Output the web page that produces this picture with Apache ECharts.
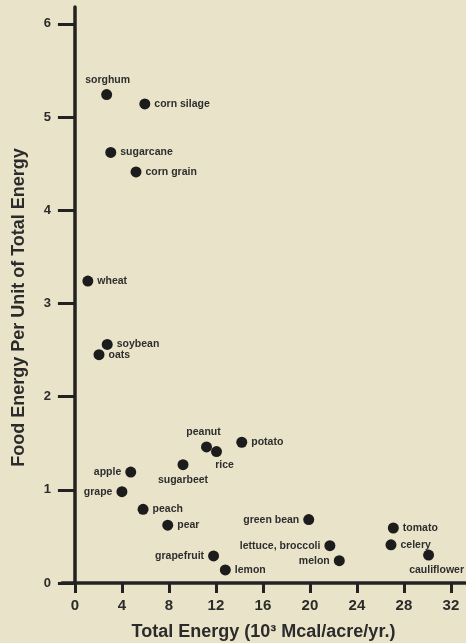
<!DOCTYPE html>
<html>
<head>
<meta charset="utf-8">
<title>Food Energy vs Total Energy</title>
<script src="https://cdn.jsdelivr.net/npm/echarts@6/dist/echarts.min.js"></script>
<style>
  html, body { margin: 0; padding: 0; background: #e9e4c9; }
  #chart { width: 466px; height: 643px; }
</style>
</head>
<body>
<div id="chart"></div>
<script>
// Crops: total energy (10^3 Mcal/acre/yr) vs food energy per unit of total energy
const crops = ['sorghum', 'corn silage', 'sugarcane', 'corn grain', 'wheat', 'soybean', 'oats',
  'apple', 'grape', 'peach', 'pear', 'sugarbeet', 'peanut', 'rice', 'potato', 'grapefruit', 'lemon',
  'green bean', 'lettuce, broccoli', 'melon', 'tomato', 'celery', 'cauliflower'];
const totalEnergy = [2.7, 5.95, 3.05, 5.2, 1.1, 2.75, 2.05,
  4.75, 4.0, 5.8, 7.9, 9.2, 11.2, 12.05, 14.2, 11.8, 12.8,
  19.9, 21.7, 22.5, 27.1, 26.9, 30.1];
const foodRatio = [5.24, 5.14, 4.62, 4.41, 3.24, 2.56, 2.45,
  1.19, 0.98, 0.79, 0.62, 1.27, 1.46, 1.41, 1.51, 0.29, 0.14,
  0.68, 0.40, 0.24, 0.59, 0.41, 0.30];
const xTicks = [0, 4, 8, 12, 16, 20, 24, 28, 32];
const yTicks = [0, 1, 2, 3, 4, 5, 6];

// where each crop's name sits relative to its dot
const labelPlacement = {
  'sorghum': { position: 'top', offset: [1, 0] },
  'apple': { position: 'left' },
  'grape': { position: 'left' },
  'sugarbeet': { position: 'bottom' },
  'peanut': { position: 'top', offset: [-3, 0] },
  'rice': { position: 'bottom', offset: [8, -1] },
  'grapefruit': { position: 'left' },
  'green bean': { position: 'left' },
  'lettuce, broccoli': { position: 'left' },
  'melon': { position: 'left' },
  'cauliflower': { position: 'bottom', offset: [8, 0] }
};

const ink = '#222';
const textInk = '#2b2b2b';
const font = 'Liberation Sans';

const points = crops.map((name, i) => {
  const p = labelPlacement[name] || { position: 'right' };
  return {
    name: name,
    value: [totalEnergy[i], foodRatio[i]],
    label: { position: p.position, offset: p.offset || [0, 0] }
  };
});

const chart = echarts.init(document.getElementById('chart'));
chart.setOption({
  backgroundColor: '#e9e4c9',
  animation: false,
  grid: { left: 62, right: 1, top: 7, bottom: 60, containLabel: false, outerBoundsMode: 'none' },
  xAxis: {
    type: 'value',
    min: -1.1,
    max: 33.2,
    name: 'Total Energy (10³ Mcal/acre/yr.)',
    nameLocation: 'middle',
    nameGap: 40,
    nameMoveOverlap: false,
    nameTextStyle: { fontFamily: font, fontWeight: 'bold', fontSize: 18, color: textInk },
    splitLine: { show: false },
    axisLine: { onZero: true, lineStyle: { color: ink, width: 3.5 } },
    axisTick: { show: true, customValues: xTicks, length: 10, lineStyle: { color: ink, width: 3 } },
    axisLabel: { customValues: xTicks, margin: 15, fontFamily: font, fontWeight: 'bold', fontSize: 15, color: textInk }
  },
  yAxis: {
    type: 'value',
    min: 0,
    max: 6.18,
    name: 'Food Energy Per Unit of Total Energy',
    nameLocation: 'middle',
    nameGap: 34,
    nameRotate: 90,
    nameMoveOverlap: false,
    nameTextStyle: { fontFamily: font, fontWeight: 'bold', fontSize: 18, color: textInk, padding: [0, 25, 0, 0] },
    splitLine: { show: false },
    axisLine: { onZero: true, lineStyle: { color: ink, width: 3.5 } },
    axisTick: { show: true, customValues: yTicks, length: 17, lineStyle: { color: ink, width: 3 } },
    axisLabel: { customValues: yTicks, margin: 11, fontFamily: font, fontWeight: 'bold', fontSize: 13, color: textInk }
  },
  series: [{
    type: 'scatter',
    symbol: 'circle',
    symbolSize: 11,
    itemStyle: { color: '#1c1c1c', opacity: 1 },
    label: {
      show: true,
      formatter: '{b}',
      distance: 4,
      fontFamily: font,
      fontWeight: 'bold',
      fontSize: 10.5,
      color: '#2e2e2e'
    },
    data: points
  }]
});
</script>
</body>
</html>
